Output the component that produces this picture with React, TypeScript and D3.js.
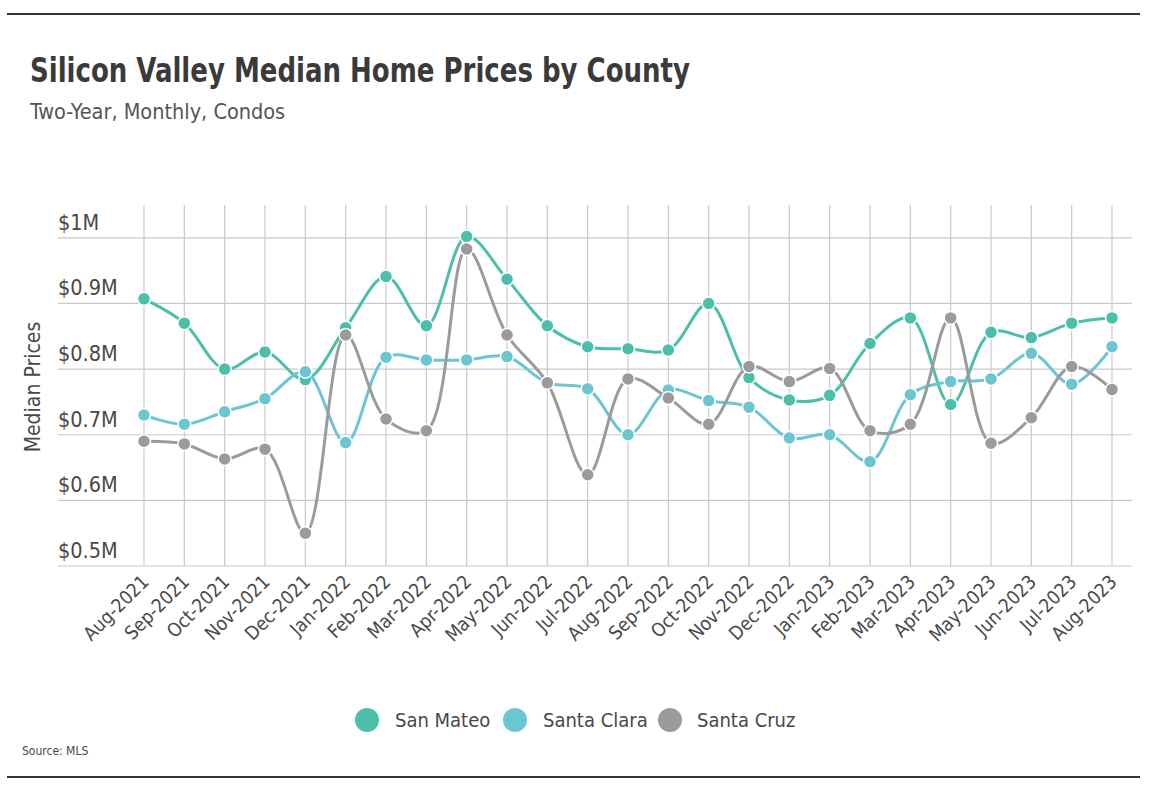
import React from 'react';
import * as d3 from 'd3';

const months = [
  'Aug-2021', 'Sep-2021', 'Oct-2021', 'Nov-2021', 'Dec-2021', 'Jan-2022', 'Feb-2022', 'Mar-2022',
  'Apr-2022', 'May-2022', 'Jun-2022', 'Jul-2022', 'Aug-2022', 'Sep-2022', 'Oct-2022', 'Nov-2022',
  'Dec-2022', 'Jan-2023', 'Feb-2023', 'Mar-2023', 'Apr-2023', 'May-2023', 'Jun-2023', 'Jul-2023', 'Aug-2023',
];

// values in $M
const sanMateo = [
  0.907, 0.870, 0.800, 0.826, 0.784, 0.863, 0.941, 0.866, 1.002, 0.937, 0.866, 0.834, 0.831,
  0.829, 0.900, 0.787, 0.753, 0.760, 0.839, 0.878, 0.746, 0.856, 0.848, 0.870, 0.878,
];
const santaClara = [
  0.730, 0.716, 0.735, 0.755, 0.796, 0.688, 0.818, 0.814, 0.814, 0.819, 0.779, 0.770, 0.700,
  0.768, 0.752, 0.742, 0.695, 0.700, 0.659, 0.761, 0.781, 0.785, 0.824, 0.777, 0.834,
];
const santaCruz = [
  0.690, 0.686, 0.663, 0.678, 0.550, 0.852, 0.724, 0.706, 0.983, 0.852, 0.779, 0.639, 0.785,
  0.756, 0.716, 0.804, 0.781, 0.801, 0.706, 0.716, 0.878, 0.687, 0.726, 0.804, 0.769,
];

const yTicks = [0.5, 0.6, 0.7, 0.8, 0.9, 1.0];

const series = [
  { name: 'San Mateo', values: sanMateo, color: '#4bbfa9' },
  { name: 'Santa Clara', values: santaClara, color: '#6bc6d1' },
  { name: 'Santa Cruz', values: santaCruz, color: '#9b9b9b' },
];

const W = 1166;
const H = 796;
const FONT = '"DejaVu Sans Condensed", "Roboto", sans-serif';
const TEXT = '#484848';

const App = () => {
  const x = d3.scalePoint<string>().domain(months).range([144, 1112]);
  const y = d3.scaleLinear().domain([0.5, 1.05]).range([566, 205]);

  const line = d3.line<number>()
    .x((_, i) => x(months[i]) as number)
    .y(d => y(d))
    .curve(d3.curveCatmullRom.alpha(0.5));

  const fmt = (v: number) => (v === 1 ? '$1M' : `$${d3.format('.1f')(v)}M`);

  // legend layout (circle x, text x)
  const legendX = [367, 515, 670];
  const legendTx = [395, 543, 697];

  return (
    <svg width={W} height={H} style={{ position: 'absolute', left: 0, top: 0, background: '#fff' }}>
      <line x1={7} x2={1140} y1={14} y2={14} stroke="#333" strokeWidth={2} />
      <line x1={7} x2={1140} y1={777} y2={777} stroke="#333" strokeWidth={2} />

      <text
        x={30}
        y={82}
        fontFamily={FONT}
        fontWeight="bold"
        fontSize={34}
        fill="#3a3a3a"
        textLength={660}
        lengthAdjust="spacingAndGlyphs"
      >
        Silicon Valley Median Home Prices by County
      </text>
      <text x={30} y={119} fontFamily={FONT} fontSize={21.5} fill="#555">
        Two-Year, Monthly, Condos
      </text>

      {/* grid */}
      {months.map(m => (
        <line key={m} x1={x(m)} x2={x(m)} y1={y(1.05)} y2={y(0.5)} stroke="#c9c9c9" strokeWidth={1.2} />
      ))}
      {yTicks.map(t => (
        <g key={t}>
          <line x1={58} x2={1132} y1={y(t)} y2={y(t)} stroke="#c9c9c9" strokeWidth={1.2} />
          <text x={58} y={y(t) - 8} fontFamily={FONT} fontSize={21.5} fill={TEXT}>
            {fmt(t)}
          </text>
        </g>
      ))}

      <text
        transform={`translate(40,${387}) rotate(-90)`}
        textAnchor="middle"
        fontFamily={FONT}
        fontSize={21}
        fill={TEXT}
      >
        Median Prices
      </text>

      {months.map(m => (
        <text
          key={m}
          transform={`translate(${(x(m) as number) + 6},${583}) rotate(-45)`}
          textAnchor="end"
          fontFamily={FONT}
          fontSize={19}
          fill={TEXT}
        >
          {m}
        </text>
      ))}

      {series.map(s => (
        <g key={s.name}>
          <path d={line(s.values) || ''} fill="none" stroke={s.color} strokeWidth={3} />
          {s.values.map((v, i) => (
            <circle
              key={i}
              cx={x(months[i])}
              cy={y(v)}
              r={6.5}
              fill={s.color}
              stroke="#fff"
              strokeWidth={1.5}
            />
          ))}
        </g>
      ))}

      {series.map((s, i) => (
        <g key={s.name}>
          <circle cx={legendX[i]} cy={720} r={12} fill={s.color} />
          <text x={legendTx[i]} y={727} fontFamily={FONT} fontSize={20} fill={TEXT}>
            {s.name}
          </text>
        </g>
      ))}

      <text x={22} y={755} fontFamily={FONT} fontSize={12} fill={TEXT}>
        Source:  MLS
      </text>
    </svg>
  );
};

export default App;
